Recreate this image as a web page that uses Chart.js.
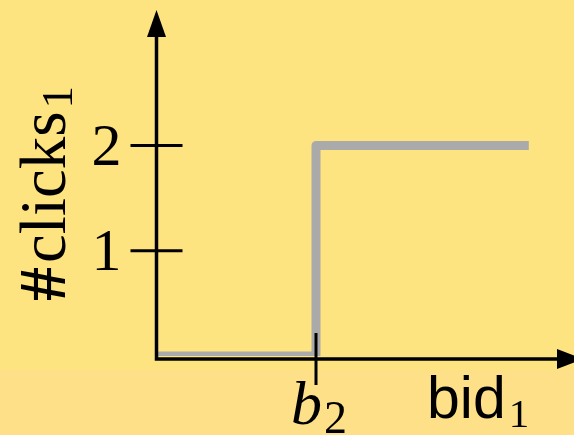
<!DOCTYPE html>
<html>
<head>
<meta charset="utf-8">
<script src="https://cdn.jsdelivr.net/npm/chart.js@4.4.0/dist/chart.umd.min.js"></script>
<style>
    html, body { margin: 0; padding: 0; background: #fee381; }
    #myChart { display: block; }
</style>
</head>
<body>
<canvas id="myChart" width="574" height="435"></canvas>
<script>
// step: no clicks below b2, two clicks from b2 on (b2 = 1 on the bid axis)
const bidValues = [0, 1, 1, 2.33];
const clickValues = [0, 0, 2, 2];

const yTickValues = [1, 2];
const yTickLabels = ['1', '2'];
const xTickValues = [1];
const xTickLabels = [['b', '2']];

const xAxisLabel = ['bid', '1'];
const yAxisLabel = ['#', 'clicks', '1'];

const axesPlugin = {
    id: 'axesPlugin',
    beforeDraw(chart) {
        const ctx = chart.ctx;
        ctx.save();
        ctx.fillStyle = '#fee381';
        ctx.fillRect(0, 0, chart.width, 370);
        ctx.fillStyle = '#fde088';
        ctx.fillRect(0, 370, chart.width, chart.height - 370);
        ctx.restore();
    },
    afterDatasetsDraw(chart) {
        const ctx = chart.ctx;
        const xs = chart.scales.x;
        const ys = chart.scales.y;
        const x0 = xs.getPixelForValue(0) + 0.5;
        const y0 = ys.getPixelForValue(0) + 3;

        ctx.save();
        ctx.strokeStyle = '#000';
        ctx.fillStyle = '#000';
        ctx.lineCap = 'butt';

        // axes
        ctx.lineWidth = 3.5;
        ctx.beginPath();
        ctx.moveTo(x0, y0 + 1.75);
        ctx.lineTo(x0, 36);
        ctx.moveTo(x0 - 1.75, y0);
        ctx.lineTo(558, y0);
        ctx.stroke();

        // arrow heads
        ctx.beginPath();
        ctx.moveTo(x0, 10);
        ctx.lineTo(x0 - 9.5, 37);
        ctx.lineTo(x0 + 9.5, 37);
        ctx.closePath();
        ctx.fill();
        ctx.beginPath();
        ctx.moveTo(583, y0);
        ctx.lineTo(557, y0 - 10);
        ctx.lineTo(557, y0 + 10);
        ctx.closePath();
        ctx.fill();

        // y ticks
        ctx.lineWidth = 3;
        ctx.font = '60px "Liberation Serif", serif';
        ctx.textAlign = 'right';
        ctx.textBaseline = 'middle';
        yTickValues.forEach((v, i) => {
            const py = ys.getPixelForValue(v);
            ctx.beginPath();
            ctx.moveTo(x0 - 26, py);
            ctx.lineTo(x0 + 26, py);
            ctx.stroke();
            ctx.fillText(yTickLabels[i], x0 - 35, py + 4);
        });

        // x ticks
        xTickValues.forEach((v, i) => {
            const px = xs.getPixelForValue(v);
            ctx.beginPath();
            ctx.moveTo(px, y0 - 26);
            ctx.lineTo(px, y0 + 26);
            ctx.stroke();
            ctx.textAlign = 'left';
            ctx.textBaseline = 'alphabetic';
            ctx.font = 'italic 62px "Liberation Serif", serif';
            ctx.fillText(xTickLabels[i][0], px - 25, y0 + 65);
            const w = ctx.measureText(xTickLabels[i][0]).width;
            ctx.font = '46px "Liberation Serif", serif';
            ctx.fillText(xTickLabels[i][1], px - 25 + w + 2, y0 + 74);
        });

        // axis titles
        ctx.textAlign = 'left';
        ctx.textBaseline = 'alphabetic';
        ctx.font = '59px "Liberation Sans", sans-serif';
        ctx.fillText(xAxisLabel[0], 427, 418);
        const bw = ctx.measureText(xAxisLabel[0]).width;
        ctx.font = '41px "Liberation Serif", serif';
        ctx.fillText(xAxisLabel[1], 427 + bw + 3, 427);

        ctx.translate(65, 301);
        ctx.rotate(-Math.PI / 2);
        ctx.font = 'bold 68px "Liberation Serif", serif';
        ctx.fillText(yAxisLabel[0], 0, 0);
        let off = ctx.measureText(yAxisLabel[0]).width + 4;
        ctx.font = '65px "Liberation Serif", serif';
        ctx.fillText(yAxisLabel[1], off, 0);
        off += ctx.measureText(yAxisLabel[1]).width + 3;
        ctx.font = '45px "Liberation Serif", serif';
        ctx.fillText(yAxisLabel[2], off, 7);
        ctx.restore();
    }
};

var ctx = document.getElementById('myChart').getContext('2d');
var myChart = new Chart(ctx, {
    type: 'line',
    data: {
        datasets: [{
            label: '#clicks1',
            data: bidValues.map((b, i) => ({ x: b, y: clickValues[i] })),
            borderColor: '#aaaaaa',
            borderWidth: 9,
            borderJoinStyle: 'round',
            borderCapStyle: 'butt',
            pointRadius: 0,
            fill: false,
            tension: 0
        }]
    },
    options: {
        responsive: false,
        animation: false,
        layout: {
            padding: { left: 156, right: 0, top: 10, bottom: 79 }
        },
        plugins: {
            legend: { display: false },
            tooltip: { enabled: false }
        },
        scales: {
            x: { type: 'linear', min: 0, max: 2.6125, display: false },
            y: { type: 'linear', min: 0, max: 3.287, display: false }
        }
    },
    plugins: [axesPlugin]
});
</script>
</body>
</html>
